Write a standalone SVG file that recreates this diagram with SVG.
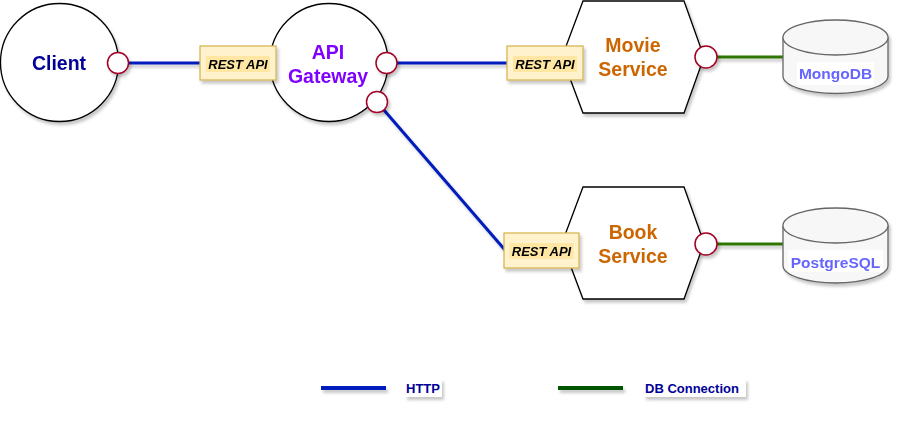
<svg xmlns="http://www.w3.org/2000/svg" width="904" height="428" viewBox="0 0 904 428">
<defs>
<filter id="sh" x="-20%" y="-20%" width="150%" height="150%">
<feDropShadow dx="2" dy="3" stdDeviation="1.5" flood-color="#000" flood-opacity="0.22"/>
</filter>
<filter id="shu" filterUnits="userSpaceOnUse" x="0" y="0" width="904" height="428">
<feDropShadow dx="2" dy="3" stdDeviation="1.5" flood-color="#000" flood-opacity="0.22"/>
</filter>
<style>
.node{fill:#fff;stroke:#000;stroke-width:1.3;}
.port{fill:#fff;stroke:#A20025;stroke-width:1.5;}
.rest{fill:#FFF2CC;stroke:#D6B656;stroke-width:1.3;}
.restbg{fill:#FFE7A3;}
.resttxt{font-family:"Liberation Sans",Arial,sans-serif;font-weight:bold;font-style:italic;font-size:13px;fill:#000;text-anchor:middle;}
.big{font-family:"Liberation Sans",Arial,sans-serif;font-weight:bold;font-size:19.5px;text-anchor:middle;}
.db{fill:#F7F7F7;stroke:#666;stroke-width:1.3;}
.dbtxt{font-family:"Liberation Sans",Arial,sans-serif;font-weight:bold;font-size:15.5px;fill:#6666FF;text-anchor:middle;}
.http{stroke:#001DBC;stroke-width:3;fill:none;}
.dbc{stroke:#2D7600;stroke-width:3;fill:none;}
.leg{font-family:"Liberation Sans",Arial,sans-serif;font-weight:bold;font-size:13px;fill:#000099;}
</style>
</defs>
<rect width="904" height="428" fill="#fff"/>

<g id="connectors" filter="url(#shu)">
<line class="http" x1="118" y1="63" x2="200" y2="63"/>
<line class="http" x1="386" y1="63" x2="507" y2="63"/>
<line class="http" x1="377" y1="102" x2="505" y2="250"/>
<line class="dbc" x1="706" y1="57" x2="783" y2="57"/>
<line class="dbc" x1="706" y1="244" x2="783" y2="244"/>
</g>

<g id="client" filter="url(#sh)">
<circle class="node" cx="59.5" cy="62.5" r="59"/>
<text class="big" x="59" y="70" fill="#000099">Client</text>
</g>

<g id="gateway" filter="url(#sh)">
<circle class="node" cx="329" cy="62.5" r="59"/>
<text class="big" x="328" y="59" fill="#7F00FF">API</text>
<text class="big" x="328" y="83" fill="#7F00FF">Gateway</text>
</g>

<g id="movie-service" filter="url(#sh)">
<polygon class="node" points="583,1 684,1 704,57 684,113 583,113 562,57"/>
<text class="big" x="633" y="52" fill="#CC6600">Movie</text>
<text class="big" x="633" y="76" fill="#CC6600">Service</text>
</g>

<g id="book-service" filter="url(#sh)">
<polygon class="node" points="583,187 684,187 704,243 684,299 583,299 562,243"/>
<text class="big" x="633" y="239" fill="#CC6600">Book</text>
<text class="big" x="633" y="263" fill="#CC6600">Service</text>
</g>

<g id="port-client" filter="url(#sh)"><circle class="port" cx="118" cy="63" r="10.5"/></g>
<g id="port-gw1" filter="url(#sh)"><circle class="port" cx="386.5" cy="63" r="10.5"/></g>
<g id="port-gw2" filter="url(#sh)"><circle class="port" cx="377" cy="102" r="10.5"/></g>
<g id="port-movie" filter="url(#sh)"><circle class="port" cx="706" cy="57" r="11"/></g>
<g id="port-book" filter="url(#sh)"><circle class="port" cx="706" cy="244" r="11"/></g>

<g id="rest-gw" filter="url(#sh)">
<rect class="rest" x="200" y="46" width="76" height="34"/>
<rect class="restbg" x="206" y="56" width="64" height="16"/>
<text class="resttxt" x="238" y="68.5">REST API</text>
</g>
<g id="rest-movie" filter="url(#sh)">
<rect class="rest" x="507" y="46" width="76" height="34"/>
<rect class="restbg" x="513" y="56" width="64" height="16"/>
<text class="resttxt" x="545" y="68.5">REST API</text>
</g>
<g id="rest-book" filter="url(#sh)">
<rect class="rest" x="504" y="233" width="75" height="35"/>
<rect class="restbg" x="509.5" y="243" width="64" height="16"/>
<text class="resttxt" x="541.5" y="255.5">REST API</text>
</g>

<g id="mongodb" filter="url(#sh)">
<path class="db" d="M783,37.5 A52.5,17.5 0 0 1 888,37.5 L888,76 A52.5,17.5 0 0 1 783,76 Z"/>
<path class="db" fill="none" d="M783,37.5 A52.5,17.5 0 0 0 888,37.5"/>
<rect x="797" y="62" width="77" height="23" fill="#fff"/>
<text class="dbtxt" x="835.5" y="79">MongoDB</text>
</g>

<g id="postgresql" filter="url(#sh)">
<path class="db" d="M783,225.5 A52.5,17.5 0 0 1 888,225.5 L888,265.5 A52.5,17.5 0 0 1 783,265.5 Z"/>
<path class="db" fill="none" d="M783,225.5 A52.5,17.5 0 0 0 888,225.5"/>
<rect x="788" y="250" width="95" height="22" fill="#fff"/>
<text class="dbtxt" x="835.5" y="268">PostgreSQL</text>
</g>

<g id="legend">
<line x1="321" y1="388" x2="386" y2="388" stroke="#001DBC" stroke-width="4" filter="url(#shu)"/>
<rect x="405" y="379" width="37" height="18" fill="#fff" filter="url(#sh)"/>
<text class="leg" x="406" y="393">HTTP</text>
<line x1="558" y1="388" x2="623" y2="388" stroke="#005700" stroke-width="4" filter="url(#shu)"/>
<rect x="644" y="379" width="102" height="18" fill="#fff" filter="url(#sh)"/>
<text class="leg" x="645" y="393">DB Connection</text>
</g>
</svg>
